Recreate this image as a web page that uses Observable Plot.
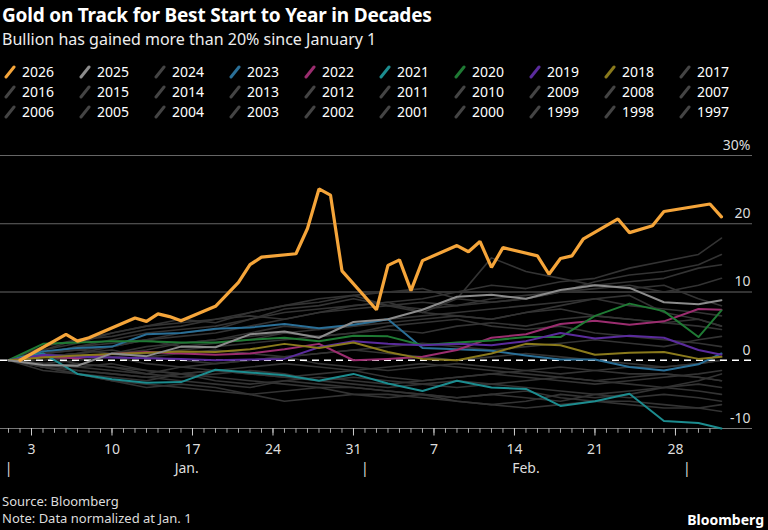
<!DOCTYPE html>
<html><head><meta charset="utf-8">
<script src="https://cdn.jsdelivr.net/npm/d3@7"></script>
<script src="https://cdn.jsdelivr.net/npm/@observablehq/plot@0.6"></script>
<style>
body{margin:0;background:#000;color:#fff;font-family:"Noto Sans",sans-serif;width:768px;height:530px;overflow:hidden;position:relative}
#title{position:absolute;left:2px;top:2px;font-size:19px;font-weight:700;letter-spacing:-0.2px}
#sub{position:absolute;left:2px;top:28px;font-size:16px;color:#eee}
#legend{position:absolute;left:4px;top:62px;width:760px;display:grid;grid-template-columns:repeat(10,75px);row-gap:1px;font-size:14px}
#legend div{display:flex;align-items:center;height:19px}
#legend svg{margin-right:6px}
#chart{position:absolute;left:0;top:135px}
#src{position:absolute;left:2px;top:493px;font-size:13px;color:#ddd;line-height:17px}
#bb{position:absolute;right:4px;top:510px;font-size:14px;font-weight:700}
</style></head><body>
<div id="title">Gold on Track for Best Start to Year in Decades</div>
<div id="sub">Bullion has gained more than 20% since January 1</div>
<div id="legend"></div>
<div id="chart"></div>
<div id="src">Source: Bloomberg<br>Note: Data normalized at Jan. 1</div>
<div id="bb">Bloomberg</div>
<script>
const years = ["2026","2025","2024","2023","2022","2021","2020","2019","2018","2017","2016","2015","2014","2013","2012","2011","2010","2009","2008","2007","2006","2005","2004","2003","2002","2001","2000","1999","1998","1997"];
const highlight = {"2026":"#f5a53a","2025":"#8c8c8c","2023":"#2a6f97","2022":"#9b2d6f","2021":"#1c8c8f","2020":"#1f7a34","2019":"#5a2b9c","2018":"#8a7a1c"};
const grayColor = "#333333";

const days2026 = [2,6,7,8,12,13,14,15,16,19,21,22,23,26,27,28,29,30,33,34,35,36,37,40,41,42,43,44,47,48,49,50,51,54,55,57,58,62,63];
const vals2026 = [0,3.8,2.8,3.3,6.2,5.7,6.8,6.4,5.8,7.9,11.4,14.0,15.1,15.6,19.3,25.1,24.2,13.1,7.4,13.9,14.7,10.2,14.6,16.8,15.9,17.4,13.6,16.5,15.3,12.6,14.9,15.3,17.8,20.7,18.7,19.7,21.8,22.9,21.0];

const daysGrid = [1,4,7,10,13,16,19,22,25,28,31,34,37,40,43,46,49,52,55,58,61,63];
const vals2025 = [0,-0.7,-0.8,1.0,0.6,2.0,1.9,3.8,4.2,3.3,5.6,6.0,7.4,9.3,9.6,9.0,10.3,11.0,10.6,8.5,8.2,8.8];
const vals2023 = [0,1.3,1.8,2.0,3.8,4.0,4.6,4.8,5.3,4.7,5.2,6.0,1.8,1.6,1.4,0.7,0.1,0.1,-1.0,-1.5,-0.6,1.0];
const vals2022 = [0,0.5,0.3,0.9,1.2,1.0,0.8,1.0,1.6,2.4,0.0,0.2,0.5,1.5,3.3,3.8,5.3,5.8,5.2,5.7,7.5,7.4];
const vals2021 = [0,1.0,-2.0,-2.8,-3.3,-3.2,-1.4,-1.8,-2.2,-3.0,-2.0,-3.4,-4.5,-3.0,-4.0,-4.2,-6.7,-6.0,-4.9,-8.9,-9.2,-10.0];
const vals2020 = [0,2.4,2.6,2.8,2.8,2.6,2.6,3.0,3.3,2.8,3.6,3.5,2.2,2.6,2.9,3.4,3.4,6.5,8.3,7.2,3.4,7.3];
const vals2019 = [0,0.8,0.5,0.4,0.3,0.2,0.0,0.1,0.2,1.9,2.8,2.4,2.2,2.4,2.2,2.8,4.0,3.2,3.6,3.3,1.5,0.8];
const vals2018 = [0,0.4,0.7,0.9,1.1,1.3,1.2,1.6,2.4,1.8,2.6,1.2,0.2,0.0,1.0,2.4,2.2,0.8,1.1,1.2,0.2,0.5];
const grayVals = [
[0,1,2,3,4,4.5,5,6,7,7.5,8,8.5,9,10,11,10.5,11.5,12,13.5,14.5,15.5,17.9],
[0,1.5,2.5,4,5,6,5.5,7,8,9,9.5,8,7.5,8,8.5,9,10,10.5,11,10,11,12],
[0,1,1.5,2,3,3.5,4,5,6,7,8,8.5,7,9,15,13,12,11,10.5,11,9,8],
[0,0.5,1,2,3,4,4.5,6,7.5,8,9,8,7,6.5,6,7,8,9,9.5,7,6,5],
[0,-1,-2,-3,-4,-3.5,-4,-5,-6,-5.5,-5,-5,-5.5,-6,-6.5,-6,-5,-5.5,-5,-4,-3,-2],
[0,-1.5,-2,-2.5,-3,-2,-2.5,-3,-3.5,-4,-4,-4.5,-5,-5.5,-5,-4.5,-5.5,-6,-6,-6.5,-7,-6.5],
[0,-0.5,-1,-1.5,-2,-1,-1.5,-2,-2.5,-2,-1.5,-2.5,-3,-2.5,-2,-1.5,-1,-1.5,-2,-2,-2.5,-3],
[0,0.5,1,0.5,1,1.5,2,2.5,3,3.5,4,4.5,4,5,5.5,5,6,6.5,6,5.5,5,4.5],
[0,-0.5,0,0.5,-0.5,-1,-0.5,0,0.5,-0.5,-1,-1.5,-1,-0.5,-1,-1.5,-2,-1.5,-1,-1,-0.5,0],
[0,1,2,2.5,3,2,2.5,3,4,3.5,4,5,5.5,6,5,4.5,5,4,3.5,3,2.5,2],
[0,-1,-1.5,-2,-2.5,-3,-3.5,-4,-3,-3.5,-4,-4.5,-5,-5.5,-5,-5.5,-6,-5,-4.5,-4,-4.5,-5],
[0,0.5,-0.5,-1,-2,-2.5,-2,-1.5,-2,-3,-3.5,-4,-3.5,-3,-3.5,-4,-4.5,-5,-5.5,-5,-5.5,-6],
[0,1,1.5,1,2,2.5,3,4,5,4.5,5,6,6.5,7,7.5,8,8.5,9,8,7.5,7,6.5],
[0,-1,-2,-3,-3.5,-4,-4.5,-5,-4.5,-4,-5,-5.5,-5,-6,-6.5,-7,-6.5,-6,-6.5,-7,-7,-7.5],
[0,0.5,1,1.5,0.5,1,1.5,1,0.5,1,1.5,2,2.5,2,1.5,2,2.5,3,2.5,2,3,3.5],
[0,-0.5,-1,-0.5,-1.5,-2,-1.5,-1,-0.5,-1,-1.5,-1,-0.5,-1,-1.5,-2,-2.5,-3,-2.5,-2,-2.5,-3],
[0,1.5,3,3.5,4.5,5,6,6.5,6,7,7.5,8,8.5,8,9,9.5,10,11,11.5,12,13.5,14],
[0,1,0.5,1,1.5,2.5,3,3.5,4,4.5,5,5.5,6,6.5,6,7,7.5,6.5,6,5.5,6,5],
[0,-0.5,-1.5,-2,-2.5,-2,-3,-3.5,-3,-2.5,-3,-3.5,-3,-2.5,-2,-2.5,-3,-3.5,-3,-2.5,-2,-1.5],
[0,0,0.5,1,0.5,0,-0.5,0,0.5,1,1.5,1,0.5,0,0.5,1,0.5,0,-0.5,-1,-0.5,0],
[0,2,3,4,5,5.5,6,7,8,8.5,9.5,10,10.5,9,8.5,9,10,11.5,12.5,13,14,15.5],
[0,-1,-0.5,-1,-1.5,-2,-1.5,-2,-2.5,-3,-2.5,-3,-3.5,-4,-3.5,-3,-2.5,-3,-3.5,-4,-3.5,-4]
];
const grayYears = ["2024","2017","2016","2015","2014","2013","2012","2011","2010","2009","2008","2007","2006","2005","2004","2003","2002","2001","2000","1999","1998","1997"];

const yTicks = [-10,0,10,20,30];
const dayTickLabels = ["3","10","17","24","31","7","14","21","28"];
const dayTickPos = [3,10,17,24,31,38,45,52,59];
const monthLabels = ["Jan.","Feb."];
const monthLabelPos = [16.5,46];
const monthMarks = [1,32,60];

const leg = document.getElementById("legend");
years.forEach(y=>{
  const c = highlight[y] || "#444";
  const d = document.createElement("div");
  d.innerHTML = `<svg width="12" height="14"><line x1="2" y1="12" x2="10" y2="2" stroke="${c}" stroke-width="3" stroke-linecap="round"/></svg>${y}`;
  leg.appendChild(d);
});

const rows = [];
grayYears.forEach((y,i)=>daysGrid.forEach((d,j)=>rows.push({year:y,day:d,v:grayVals[i][j]})));
const colored = [["2023",vals2023],["2022",vals2022],["2021",vals2021],["2020",vals2020],["2019",vals2019],["2018",vals2018]];
const colRows = [];
colored.forEach(([y,v])=>daysGrid.forEach((d,j)=>colRows.push({year:y,day:d,v:v[j]})));
const r2025 = daysGrid.map((d,j)=>({day:d,v:vals2025[j]}));
const r2026 = days2026.map((d,j)=>({day:d,v:vals2026[j]}));
const minor = d3.range(1,63);

const chart = Plot.plot({
  width:768,height:350,marginTop:20,marginBottom:57,marginLeft:0,marginRight:16,
  style:{background:"#000",color:"#ccc",fontFamily:"Noto Sans, sans-serif",fontSize:"14px"},
  x:{type:"linear",domain:[0.304,65.7],axis:null},
  y:{type:"linear",domain:[-10,30],axis:null},
  marks:[
    Plot.ruleY([10,20,30],{stroke:"#666",strokeWidth:1.2}),
    Plot.ruleY([-10],{stroke:"#777",strokeWidth:1.2}),
    Plot.lineY(rows,{x:"day",y:"v",z:"year",stroke:grayColor,strokeWidth:1.6}),
    Plot.ruleY([0],{stroke:"#fff",strokeWidth:1.5,strokeDasharray:"7,5"}),
    Plot.lineY(colRows,{x:"day",y:"v",z:"year",stroke:d=>highlight[d.year],strokeWidth:2}),
    Plot.lineY(r2025,{x:"day",y:"v",stroke:highlight["2025"],strokeWidth:2}),
    Plot.lineY(r2026,{x:"day",y:"v",stroke:highlight["2026"],strokeWidth:3.2,strokeLinejoin:"miter"}),
    Plot.text(yTicks,{x:()=>65.7,y:d=>d,text:d=>d===30?"30%":String(d),textAnchor:"end",dy:-10,dx:-2,fill:"#ddd",fontSize:14}),
    Plot.ruleX(minor,{x:d=>d,y1:()=>-10,y2:()=>-10.7,stroke:"#aaa"}),
    Plot.ruleX(dayTickPos,{x:d=>d,y1:()=>-10,y2:()=>-11.1,stroke:"#ccc"}),
    Plot.text(dayTickPos,{x:d=>d,y:()=>-10,text:(d,i)=>dayTickLabels[i],dy:21,fill:"#ddd",fontSize:14}),
    Plot.text(monthLabelPos,{x:d=>d,y:()=>-10,text:(d,i)=>monthLabels[i],dy:40,fill:"#ddd",fontSize:14}),
    Plot.text(monthMarks,{x:d=>d,y:()=>-10,text:()=>"|",dy:40,fill:"#ddd",fontSize:14})
  ]
});
document.getElementById("chart").appendChild(chart);
</script></body></html>
